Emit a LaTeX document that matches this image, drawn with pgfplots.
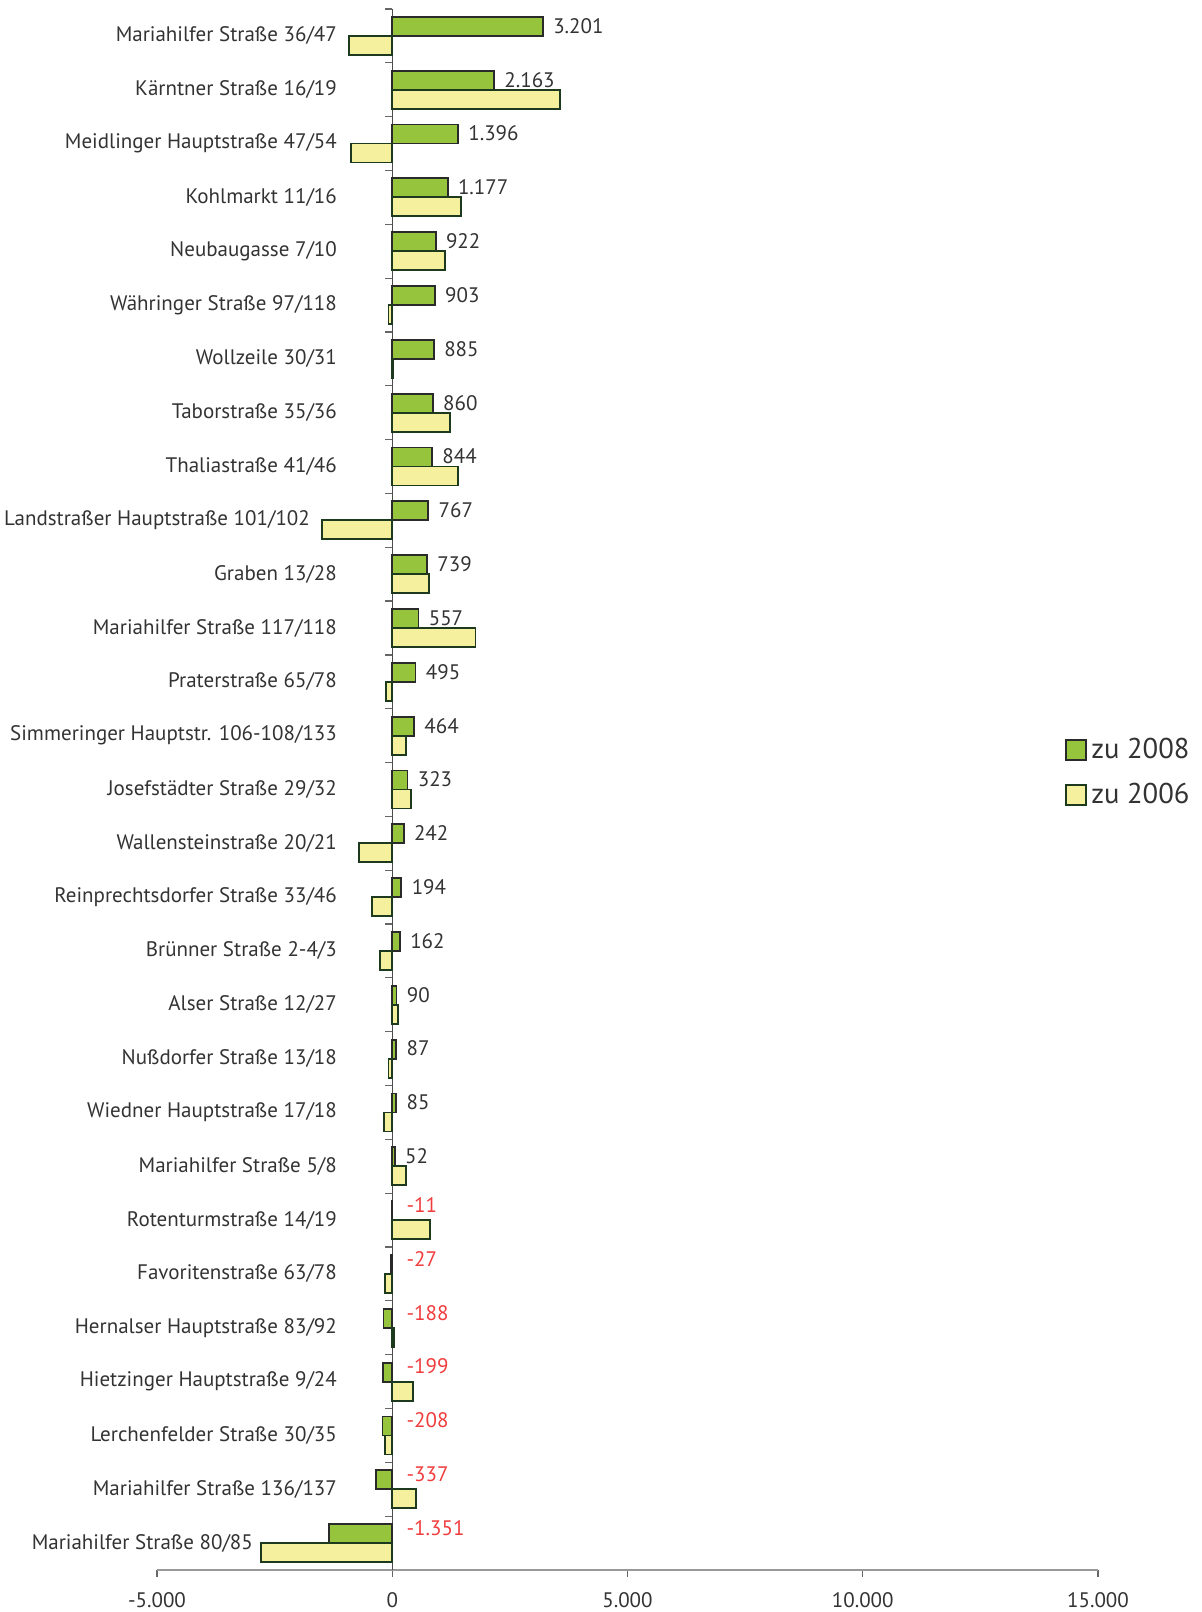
\documentclass[border=0pt]{standalone}
\usepackage{pgfplots}
\pgfplotsset{compat=1.18}
\usepackage{fontspec}
\setmainfont{PT Sans}
\definecolor{grn}{HTML}{96C43C}
\definecolor{ylw}{HTML}{F4F09E}
\definecolor{txt}{HTML}{333333}
\definecolor{neg}{HTML}{F03C3C}
\definecolor{gedge}{HTML}{2A2A2A}
\definecolor{yedge}{HTML}{1E3A1E}

% pos: 28 = top row
\pgfplotstableread{
pos g v
28 3201 -920
27 2163 3567
26 1396 -875
25 1177 1466
24 922 1116
23 903 -80
22 885 15
21 860 1234
20 844 1391
19 767 -1491
18 739 773
17 557 1768
16 495 -136
15 464 298
14 323 405
13 242 -711
12 194 -426
11 162 -256
10 90 120
9 87 -80
8 85 -179
7 52 298
6 -11 795
5 -27 -150
4 -188 40
3 -199 440
2 -208 -150
1 -337 510
0 -1351 -2790
}\datatab

\pgfplotsset{
  sq legend/.style={legend image code/.code={
    \draw[##1, line width=0.9pt] (0pt,-5pt) rectangle (10pt,5pt);}},
}

\begin{document}
\begin{tikzpicture}
\useasboundingbox (0,0) rectangle (600.5pt,806pt);
\begin{axis}[
  at={(78.5pt,21pt)}, anchor=south west,
  scale only axis, width=470.5pt, height=780.5pt,
  xmin=-5000, xmax=15000, ymin=-0.5, ymax=28.5,
  axis x line*=bottom, axis y line*=center,
  x axis line style={draw=gray!80, line width=1pt},
  y axis line style={draw=black!70, line width=0.7pt},
  xtick={-5000,0,5000,10000,15000},
  scaled x ticks=false,
  tick align=outside,
  major tick length=3.5pt,
  tick style={draw=black!60, line width=0.6pt},
  /pgf/number format/1000 sep={.},
  /pgf/number format/assume math mode=true,
  xticklabel style={font=\fontsize{10.5}{12}\selectfont, text=txt, yshift=-4pt},
  ytick={-0.5,0.5,...,28.5},
  yticklabel style={text opacity=0},
  extra y ticks={0,...,28},
  extra y tick labels={
    {Mariahilfer Straße 80/85\hspace*{42pt}},
    {Mariahilfer Straße 136/137},
    {Lerchenfelder Straße 30/35},
    {Hietzinger Hauptstraße 9/24},
    {Hernalser Hauptstraße 83/92},
    {Favoritenstraße 63/78},
    {Rotenturmstraße 14/19},
    {Mariahilfer Straße 5/8},
    {Wiedner Hauptstraße 17/18},
    {Nußdorfer Straße 13/18},
    {Alser Straße 12/27},
    {Brünner Straße 2-4/3},
    {Reinprechtsdorfer Straße 33/46},
    {Wallensteinstraße 20/21},
    {Josefstädter Straße 29/32},
    {Simmeringer Hauptstr. 106-108/133},
    {Praterstraße 65/78},
    {Mariahilfer Straße 117/118},
    {Graben 13/28},
    {Landstraßer Hauptstraße 101/102\hspace*{13.5pt}},
    {Thaliastraße 41/46},
    {Taborstraße 35/36},
    {Wollzeile 30/31},
    {Währinger Straße 97/118},
    {Neubaugasse 7/10},
    {Kohlmarkt 11/16},
    {Meidlinger Hauptstraße 47/54},
    {Kärntner Straße 16/19},
    {Mariahilfer Straße 36/47}},
  extra y tick style={major tick length=0pt,
    yticklabel style={text opacity=1, anchor=east, inner sep=0pt, xshift=-27.5pt,
      font=\fontsize{10.5}{12}\selectfont, text=txt}},
  legend style={at={(0.965,0.511)}, anchor=west, draw=none, fill=none,
    font=\fontsize{14.3}{16}\selectfont, text=txt, row sep=7pt,
    inner sep=0pt, cells={anchor=west}},
  clip=false,
]
\addplot[xbar, bar width=9.5pt, bar shift=4.75pt, fill=grn, draw=gedge,
  line width=0.9pt, sq legend] table[x=g, y=pos] {\datatab};
\addplot[xbar, bar width=9.5pt, bar shift=-4.75pt, fill=ylw, draw=yedge,
  line width=0.9pt, sq legend] table[x=v, y=pos] {\datatab};
\legend{zu 2008, zu 2006}

% value labels, positive
\addplot[xbar, bar width=9.5pt, bar shift=4.75pt, draw=none, fill=none,
  forget plot, point meta=explicit symbolic, nodes near coords,
  every node near coord/.append style={anchor=west, inner sep=0pt,
    xshift=5pt, yshift=5pt, font=\fontsize{10.5}{12}\selectfont, text=txt}]
  coordinates {(3201,28)[3.201] (2163,27)[2.163] (1396,26)[1.396]
  (1177,25)[1.177] (922,24)[922] (903,23)[903] (885,22)[885] (860,21)[860]
  (844,20)[844] (767,19)[767] (739,18)[739] (557,17)[557] (495,16)[495]
  (464,15)[464] (323,14)[323] (242,13)[242] (194,12)[194] (162,11)[162]
  (90,10)[90] (87,9)[87] (85,8)[85] (52,7)[52]};
% value labels, negative
\addplot[xbar, bar width=9.5pt, bar shift=4.75pt, draw=none, fill=none,
  forget plot, point meta=explicit symbolic, nodes near coords,
  every node near coord/.append style={anchor=west, inner sep=0pt,
    xshift=7pt, yshift=7.5pt, font=\fontsize{10.5}{12}\selectfont, text=neg}]
  coordinates {(0,6)[-11] (0,5)[-27] (0,4)[-188] (0,3)[-199] (0,2)[-208]
  (0,1)[-337] (0,0)[-1.351]};
\end{axis}
\end{tikzpicture}
\end{document}
